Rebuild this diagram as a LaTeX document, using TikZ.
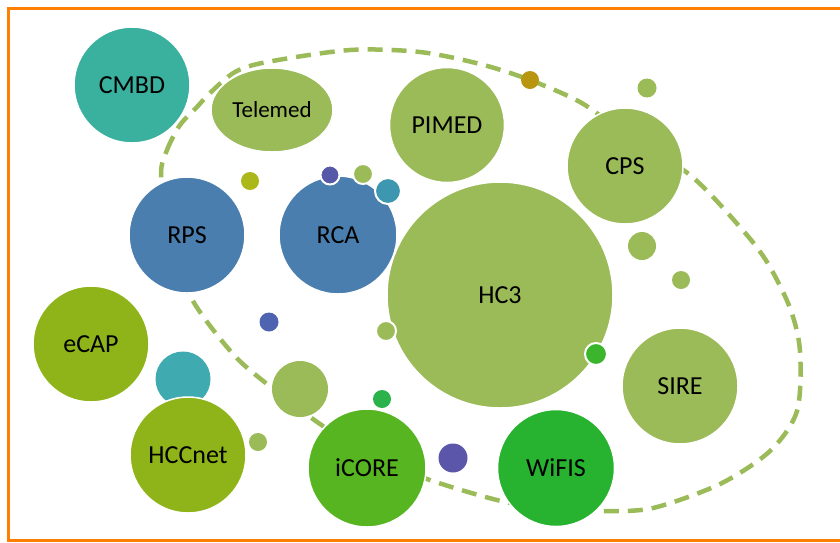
\documentclass[tikz,border=0pt]{standalone}
\usepackage{fontspec}
\setmainfont{Carlito}
\usetikzlibrary{shapes.geometric}
\definecolor{framec}{HTML}{FF7F00}
\definecolor{hcgreen}{HTML}{9BBB59}
\definecolor{cmbdteal}{HTML}{3AB09E}
\definecolor{rpsblue}{HTML}{4A7EAE}
\definecolor{olive}{HTML}{8FB419}
\definecolor{icoregreen}{HTML}{56B520}
\definecolor{wifisgreen}{HTML}{27B230}
\definecolor{hccteal}{HTML}{3FAAB0}
\definecolor{dotyellow}{HTML}{ACB81A}
\definecolor{dotblue}{HTML}{5559A8}
\definecolor{dotblueb}{HTML}{4E64B0}
\definecolor{dotteal}{HTML}{3D97B0}
\definecolor{dotgold}{HTML}{B8960F}
\definecolor{dotgreen}{HTML}{3BB52B}
\definecolor{dotgreenb}{HTML}{2BB24A}
\definecolor{dotpurple}{HTML}{5B56AA}
\begin{document}
\begin{tikzpicture}[x=1pt,y=-1pt,
        bubble/.style={circle,fill=#1,draw=white,line width=1.5pt,inner sep=0pt,
            minimum size=116pt,text=black,font=\fontsize{26}{30}\selectfont},
        dot/.style={circle,fill=#1,draw=none,inner sep=0pt},
        ring/.style={draw=white,line width=2pt},
        loopline/.style={hcgreen,line width=4.5pt,dash pattern=on 15pt off 9pt}]
    \useasboundingbox (0,0) rectangle (840,542);
    %% frame
    \draw[framec,line width=3pt] (845,8.5) -- (8.5,8.5) -- (8.5,540.5) -- (845,540.5);
    %% dashed loop
    \draw[loopline] plot[smooth cycle,tension=0.5] coordinates {
        (161,175) (167,150) (180,125) (197,107) (210,93) (235,72) (267,62)
        (350,50) (420,52) (480,64) (530,80) (580,102) (620,130) (690,175)
        (740,227) (767,262) (790,308) (800,351) (797,411) (770,451) (720,484)
        (653,508) (602,511) (540,508) (493,499) (427,479) (370,455) (320,424)
        (267,384) (233,354) (193,301) (168,240)};
    %% circle behind HCCnet
    \node[dot=hccteal,minimum size=55pt] (hccback) at (183,379) {};
    %% big circles
    \node[bubble=cmbdteal] (cmbd) at (132,85) {CMBD};
    \node[bubble=hcgreen,ellipse,minimum width=122pt,minimum height=84pt,
        font=\fontsize{23}{26}\selectfont] (telemed) at (272,110) {Telemed};
    \node[bubble=hcgreen,minimum size=115pt] (pimed) at (447,125) {PIMED};
    \node[bubble=hcgreen] (cps) at (625,166) {CPS};
    \node[bubble=rpsblue] (rps) at (187,235) {RPS};
    \node[bubble=rpsblue,minimum size=118pt] (rca) at (338,235) {RCA};
    \node[bubble=hcgreen,minimum size=226pt] (hc3) at (500,295) {HC3};
    \node[bubble=hcgreen] (sire) at (680,386) {SIRE};
    \node[bubble=olive] (ecap) at (91,344) {eCAP};
    \node[bubble=olive] (hccnet) at (188,455) {HCCnet};
    \node[bubble=icoregreen,minimum size=118pt] (icore) at (367,468) {iCORE};
    \node[bubble=wifisgreen,minimum size=117pt] (wifis) at (556,468) {WiFIS};
    %% small circles
    \foreach \n/\x/\y/\d/\c in {yel/250/181/18/dotyellow, gold/530/80/18/dotgold,
            sa/647/88/19/hcgreen, sb/642/246/28/hcgreen, sc/681/280/18/hcgreen,
            blueb/269/322/19/dotblueb, mid/300/389/56/hcgreen, sd/258/442/18/hcgreen,
            greenb/382/399/18/dotgreenb, purple/453/458/29/dotpurple}
        \node[dot=\c,minimum size=\d pt] (\n) at (\x,\y) {};
    \foreach \n/\x/\y/\d/\c in {bluea/330/175/19/dotblue, se/363/174/20/hcgreen,
            teal/388/191/26/dotteal, sf/386/331/20/hcgreen, greena/596/354/22/dotgreen}
        \node[dot=\c,ring,minimum size=\d pt] (\n) at (\x,\y) {};
\end{tikzpicture}
\end{document}
